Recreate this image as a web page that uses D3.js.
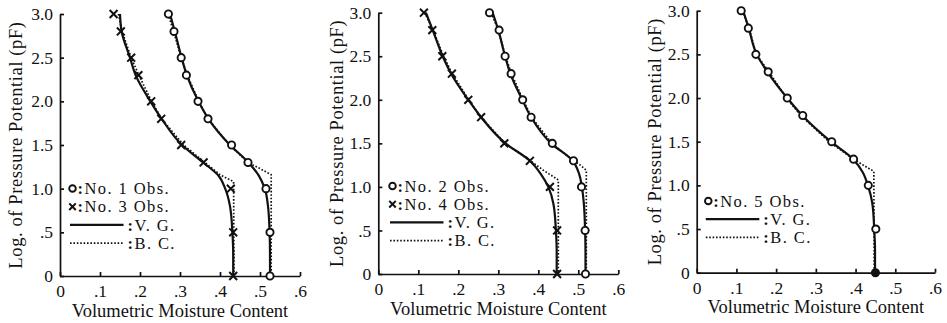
<!DOCTYPE html>
<html>
<head>
<meta charset="utf-8">
<script src="https://cdn.jsdelivr.net/npm/d3@7"></script>
<style>
body { margin: 0; background: #fff; }
.axis path, .axis line { stroke: #111; stroke-width: 1.7; }
</style>
</head>
<body>
<svg id="chart" width="947" height="323"></svg>
<script>
// observed points (pF levels shared by all samples)
var obsPf = [3.0, 2.8, 2.5, 2.3, 2.0, 1.8, 1.5, 1.3, 1.0, 0.5, 0];
var obs1 = [0.271, 0.285, 0.303, 0.316, 0.345, 0.370, 0.429, 0.470, 0.515, 0.525, 0.525];
var obs2 = [0.278, 0.302, 0.317, 0.332, 0.361, 0.382, 0.435, 0.488, 0.508, 0.517, 0.518];
var obs3 = [0.134, 0.152, 0.178, 0.196, 0.228, 0.253, 0.303, 0.359, 0.427, 0.433, 0.433];
var obs4 = [0.114, 0.135, 0.160, 0.184, 0.225, 0.257, 0.315, 0.379, 0.429, 0.447, 0.447];
var obs5 = [0.112, 0.130, 0.149, 0.180, 0.228, 0.267, 0.340, 0.395, 0.432, 0.451, 0.450];

// van Genuchten fitted curves
var vgPf = [3.0, 2.8, 2.5, 2.3, 2.0, 1.8, 1.5, 1.3, 1.15, 1.0, 0.8, 0.5, 0.25, 0];
var vg1 = [0.275, 0.287, 0.304, 0.317, 0.346, 0.371, 0.425, 0.471, 0.497, 0.512, 0.520, 0.524, 0.525, 0.525];
var vg2 = [0.286, 0.300, 0.317, 0.330, 0.360, 0.382, 0.432, 0.486, 0.502, 0.509, 0.514, 0.517, 0.518, 0.518];
var vg3 = [0.150, 0.154, 0.175, 0.189, 0.226, 0.254, 0.305, 0.358, 0.396, 0.413, 0.425, 0.431, 0.433, 0.433];
var vg4 = [0.119, 0.136, 0.161, 0.182, 0.225, 0.257, 0.318, 0.379, 0.406, 0.425, 0.438, 0.444, 0.446, 0.446];
var vg5 = [0.117, 0.131, 0.151, 0.178, 0.228, 0.266, 0.338, 0.394, 0.418, 0.431, 0.442, 0.447, 0.449, 0.449];

// Brooks-Corey fitted curves (knee at air entry value)
var bcPf1 = [3.0, 2.8, 2.5, 2.3, 2.0, 1.8, 1.5, 1.3, 1.23, 1.16, 0];
var bc1 = [0.270, 0.284, 0.303, 0.318, 0.347, 0.370, 0.424, 0.470, 0.500, 0.528, 0.528];
var bcPf2 = [3.0, 2.8, 2.5, 2.3, 2.0, 1.8, 1.5, 1.3, 1.25, 1.19, 0];
var bc2 = [0.282, 0.300, 0.318, 0.333, 0.362, 0.383, 0.434, 0.488, 0.505, 0.520, 0.520];
var bcPf3 = [3.0, 2.8, 2.5, 2.3, 2.0, 1.8, 1.5, 1.3, 1.16, 1.08, 0];
var bc3 = [0.146, 0.155, 0.178, 0.197, 0.229, 0.254, 0.309, 0.362, 0.400, 0.434, 0.435];
var bcPf4 = [3.0, 2.8, 2.5, 2.3, 2.0, 1.8, 1.5, 1.3, 1.19, 1.08, 0];
var bc4 = [0.116, 0.137, 0.163, 0.185, 0.226, 0.257, 0.317, 0.380, 0.413, 0.450, 0.450];
var bcPf5 = [3.0, 2.8, 2.5, 2.3, 2.0, 1.8, 1.5, 1.3, 1.23, 1.16, 0];
var bc5 = [0.115, 0.132, 0.150, 0.182, 0.226, 0.262, 0.333, 0.395, 0.420, 0.446, 0.447];

// axes
var xTicks = [0, 0.1, 0.2, 0.3, 0.4, 0.5, 0.6];
var xTickLabels = ["0", ".1", ".2", ".3", ".4", ".5", ".6"];
var yTicks = [0, 0.5, 1.0, 1.5, 2.0, 2.5, 3.0];
var yTickLabels = ["0", ".5", "1.0", "1.5", "2.0", "2.5", "3.0"];
var xTitle = "Volumetric Moisture Content";
var yTitle = "Log. of Pressure Potential (pF)";

var FONT = "'Liberation Serif', 'DejaVu Serif', serif";

function pts(pf, th) {
	return pf.map(function(p, i) { return { pf: p, th: th[i] }; });
}

var panels = [
	{ left: 60, right: 300, top: 14, bottom: 276, titleX: 16,
		series: [
			{ obs: pts(obsPf, obs1), vg: pts(vgPf, vg1), bc: pts(bcPf1, bc1), mark: "circle", label: "No. 1 Obs." },
			{ obs: pts(obsPf, obs3), vg: pts(vgPf, vg3), bc: pts(bcPf3, bc3), mark: "cross", label: "No. 3 Obs." }
		],
		legendX: 72.5, legendY: 188.5 },
	{ left: 378.3, right: 618.3, top: 12.7, bottom: 274, titleX: 337,
		series: [
			{ obs: pts(obsPf, obs2), vg: pts(vgPf, vg2), bc: pts(bcPf2, bc2), mark: "circle", label: "No. 2 Obs." },
			{ obs: pts(obsPf, obs4), vg: pts(vgPf, vg4), bc: pts(bcPf4, bc4), mark: "cross", label: "No. 4 Obs." }
		],
		legendX: 392.5, legendY: 186 },
	{ left: 696.7, right: 935, top: 10.7, bottom: 272.7, titleX: 655,
		series: [
			{ obs: pts(obsPf, obs5), vg: pts(vgPf, vg5), bc: pts(bcPf5, bc5), mark: "circle", label: "No. 5 Obs.", filledAt: [0] }
		],
		legendX: 708.3, legendY: 201 }
];

var svg = d3.select("#chart");

function label(sel, size) {
	return sel.style("font-family", FONT).style("font-size", size + "px").attr("fill", "#111");
}

// ":" then the entry text, kept in one text element
function legendText(g, x, y, txt) {
	var t = label(g.append("text"), 16.5).attr("x", x).attr("y", y).attr("dy", "0.34em");
	t.append("tspan").attr("font-weight", "bold").text(":");
	t.append("tspan").attr("dx", 1.5).style("letter-spacing", "1.4px").text(txt);
}

panels.forEach(function(p) {
	var x = d3.scaleLinear().domain([0, 0.6]).range([p.left, p.right]);
	var y = d3.scaleLinear().domain([0, 3]).range([p.bottom, p.top]);
	var g = svg.append("g");

	g.append("g")
		.attr("class", "axis")
		.attr("transform", "translate(0," + p.bottom + ")")
		.call(d3.axisBottom(x).tickValues(xTicks)
			.tickFormat(function(d, i) { return xTickLabels[i]; })
			.tickSizeInner(-4).tickSizeOuter(0).tickPadding(8.5))
		.call(function(a) { label(a.selectAll("text"), 17.5); });

	g.append("g")
		.attr("class", "axis")
		.attr("transform", "translate(" + p.left + ",0)")
		.call(d3.axisLeft(y).tickValues(yTicks)
			.tickFormat(function(d, i) { return yTickLabels[i]; })
			.tickSizeInner(-4).tickSizeOuter(0).tickPadding(7))
		.call(function(a) { label(a.selectAll("text"), 17.5); });

	label(g.append("text"), 18.5)
		.attr("x", (p.left + p.right) / 2)
		.attr("y", p.bottom + 40.5)
		.attr("text-anchor", "middle")
		.text(xTitle);

	label(g.append("text"), 18.5)
		.attr("transform", "translate(" + p.titleX + "," + ((p.top + p.bottom) / 2) + ") rotate(-90)")
		.attr("text-anchor", "middle")
		.attr("dy", "0.35em")
		.style("letter-spacing", "0.6px")
		.text(yTitle);

	var line = d3.line()
		.x(function(d) { return x(d.th); })
		.y(function(d) { return y(d.pf); });

	p.series.forEach(function(s) {
		g.append("path")
			.attr("d", line.curve(d3.curveLinear)(s.bc))
			.attr("fill", "none")
			.attr("stroke", "#111")
			.attr("stroke-width", 1.7)
			.attr("stroke-dasharray", "1.6,1.8");
		g.append("path")
			.attr("d", line.curve(d3.curveMonotoneY)(s.vg))
			.attr("fill", "none")
			.attr("stroke", "#111")
			.attr("stroke-width", 2.2);
	});

	p.series.forEach(function(s) {
		if (s.mark === "circle") {
			g.selectAll(null).data(s.obs).enter().append("circle")
				.attr("cx", function(d) { return x(d.th); })
				.attr("cy", function(d) { return y(d.pf); })
				.attr("r", 3.6)
				.attr("fill", function(d) { return s.filledAt && s.filledAt.indexOf(d.pf) >= 0 ? "#111" : "#fff"; })
				.attr("stroke", "#111")
				.attr("stroke-width", 1.9);
		} else {
			g.selectAll(null).data(s.obs).enter().append("path")
				.attr("transform", function(d) { return "translate(" + x(d.th) + "," + y(d.pf) + ")"; })
				.attr("d", d3.symbol(d3.symbolX, 42))
				.attr("fill", "none")
				.attr("stroke", "#111")
				.attr("stroke-width", 2);
		}
	});

	// legend
	var lx = p.legendX, ly = p.legendY, dy = 18.2, row = 0;
	p.series.forEach(function(s) {
		var yy = ly + row * dy;
		if (s.mark === "circle") {
			g.append("circle").attr("cx", lx).attr("cy", yy).attr("r", 3.3)
				.attr("fill", "#fff").attr("stroke", "#111").attr("stroke-width", 1.9);
		} else {
			g.append("path").attr("transform", "translate(" + lx + "," + yy + ")")
				.attr("d", d3.symbol(d3.symbolX, 30))
				.attr("fill", "none").attr("stroke", "#111").attr("stroke-width", 2);
		}
		legendText(g, lx + 5, yy, s.label);
		row++;
	});
	[{ dash: null, label: "V. G." }, { dash: "1.6,1.8", label: "B. C." }].forEach(function(k) {
		var yy = ly + row * dy;
		g.append("line").attr("x1", lx - 2.5).attr("x2", lx + 51).attr("y1", yy).attr("y2", yy)
			.attr("stroke", "#111").attr("stroke-width", k.dash ? 1.7 : 2.2)
			.attr("stroke-dasharray", k.dash);
		legendText(g, lx + 55, yy, k.label);
		row++;
	});
});
</script>
</body>
</html>
